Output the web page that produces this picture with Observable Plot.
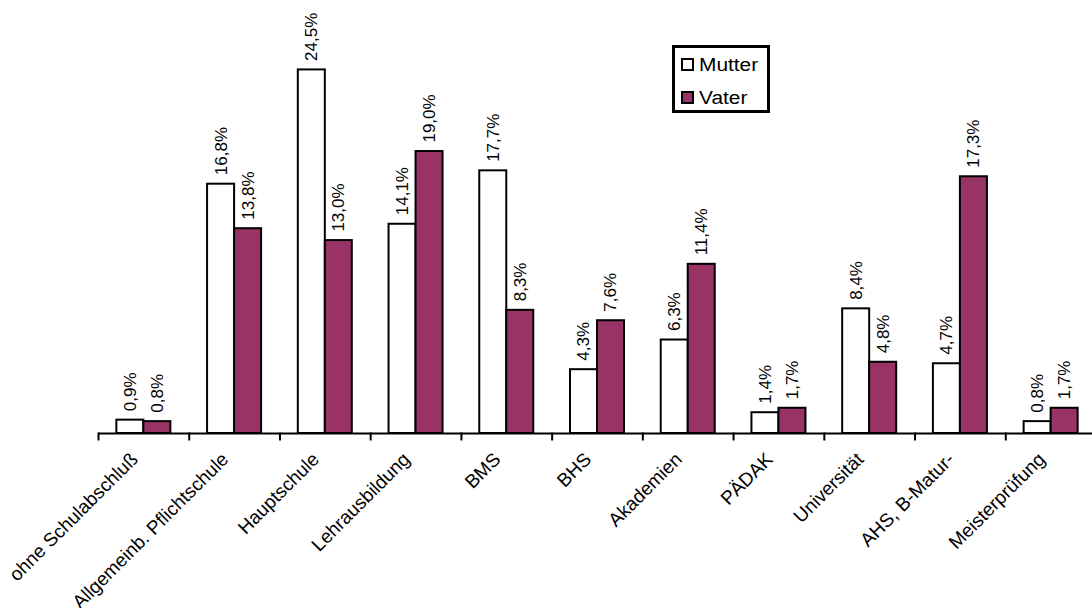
<!DOCTYPE html>
<html>
<head>
<meta charset="utf-8">
<script src="https://cdn.jsdelivr.net/npm/d3@7"></script>
<script src="https://cdn.jsdelivr.net/npm/@observablehq/plot@0.6"></script>
<style>
  body { margin: 0; background: #fff; }
  #wrap { position: relative; width: 1092px; height: 608px; overflow: hidden;
          font-family: "Liberation Sans", Arial, sans-serif; }
  .legend { position: absolute; left: 672px; top: 45px; width: 92px; height: 62px;
            border: 3px solid #000; background: #fff; }
  .legend .sw { position: absolute; left: 6px; width: 9px; height: 9px; border: 2px solid #000; }
  .legend .lab { position: absolute; left: 24px; font-size: 18px; line-height: 18px; color: #000;
                 transform: scaleX(1.16); transform-origin: left center; white-space: nowrap; }
</style>
</head>
<body>
<div id="wrap"></div>
<script>
// Highest completed education of the parents, share in percent
const categories = [
  "ohne Schulabschluß", "Allgemeinb. Pflichtschule", "Hauptschule", "Lehrausbildung",
  "BMS", "BHS", "Akademien", "PÄDAK", "Universität", "AHS, B-Matur-", "Meisterprüfung"
];
const series = ["Mutter", "Vater"];
const mutter = [0.9, 16.8, 24.5, 14.1, 17.7, 4.3, 6.3, 1.4, 8.4, 4.7, 0.8];
const vater  = [0.8, 13.8, 13.0, 19.0, 8.3, 7.6, 11.4, 1.7, 4.8, 17.3, 1.7];
const colors = ["#ffffff", "#993366"];

const rows = categories.flatMap((c, i) => [
  {category: c, series: series[0], value: mutter[i]},
  {category: c, series: series[1], value: vater[i]}
]);
const pct = v => v.toFixed(1).replace(".", ",") + "%";

const chart = Plot.plot({
  width: 1092,
  height: 608,
  marginTop: 62,
  marginBottom: 175,
  marginLeft: 98,
  marginRight: -4,
  style: {fontFamily: "Liberation Sans, Arial, sans-serif", fontSize: "16px", background: "white", overflow: "visible"},
  fx: {domain: categories, padding: 0, round: false, axis: null},
  x: {domain: series, paddingInner: 0, paddingOuter: 0.68, round: false, axis: null},
  y: {domain: [0, 25], axis: null},
  color: {domain: series, range: colors},
  marks: [
    // paired bars per school type
    Plot.barY(rows, {fx: "category", x: "series", y: "value", fill: "series", stroke: "#000", strokeWidth: 2}),
    // vertical value labels above each bar
    Plot.text(rows, {fx: "category", x: "series", y: "value", text: d => pct(d.value),
      rotate: -90, textAnchor: "start", lineAnchor: "middle", dy: -9, fontSize: 17, fill: "#000"}),
    // category axis: baseline and boundary ticks
    Plot.ruleY([0], {stroke: "#000", strokeWidth: 2}),
    Plot.frame({anchor: "left", insetTop: 371, insetBottom: -6, stroke: "#000", strokeWidth: 2}),
    // slanted category names
    Plot.text(categories, {fx: d => d, text: d => d, frameAnchor: "bottom", rotate: -45,
      textAnchor: "end", lineAnchor: "bottom", dx: -5, dy: 27, fontSize: 19, fill: "#000"})
  ]
});

const wrap = document.getElementById("wrap");
wrap.appendChild(chart);

// legend box
const legend = document.createElement("div");
legend.className = "legend";
series.forEach((s, i) => {
  const sw = document.createElement("div");
  sw.className = "sw";
  sw.style.top = (i === 0 ? 10 : 43) + "px";
  sw.style.background = colors[i];
  const lab = document.createElement("div");
  lab.className = "lab";
  lab.style.top = (i === 0 ? 7.5 : 40.8) + "px";
  lab.textContent = s;
  legend.appendChild(sw);
  legend.appendChild(lab);
});
wrap.appendChild(legend);
</script>
</body>
</html>
